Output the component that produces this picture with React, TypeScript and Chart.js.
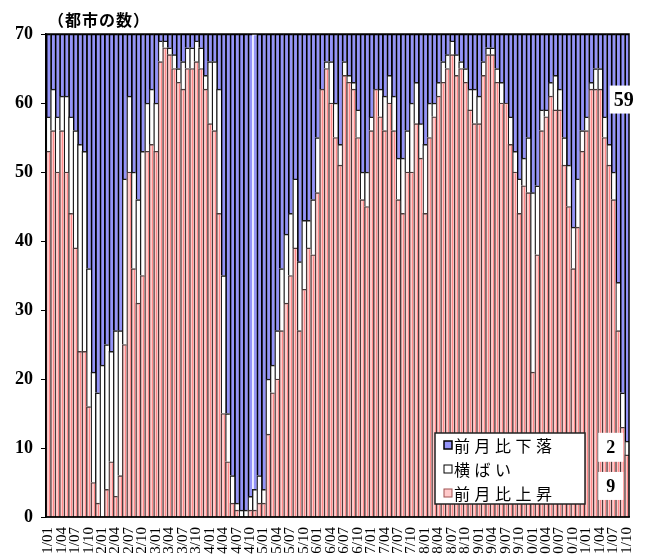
import { useEffect, useRef } from 'react';
import { Chart, registerables } from 'chart.js';

Chart.register(...registerables);

// Monthly categories 2011/01 .. 2021/10
const startYear = 2011;
const monthCount = 130;
const categories: string[] = [];
for (let i = 0; i < monthCount; i++) {
  const y = startYear + Math.floor(i / 12);
  const m = (i % 12) + 1;
  categories.push(`${y}/${m < 10 ? '0' + m : m}`);
}

// 前月比上昇 (rising)
const rising = [
  53, 56, 50, 56, 50, 44, 39, 24, 24, 16, 5, 2, 0, 4, 8, 3, 6, 25, 50, 36,
  31, 35, 53, 54, 53, 66, 68, 67, 65, 63, 62, 65, 65, 66, 65, 62, 57, 56, 44, 15,
  8, 2, 1, 0, 0, 1, 1, 2, 2, 12, 18, 20, 27, 31, 35, 39, 27, 33, 39, 38,
  47, 62, 65, 60, 55, 51, 64, 63, 62, 55, 46, 45, 56, 62, 58, 56, 60, 56, 46, 44,
  50, 50, 57, 52, 44, 55, 58, 61, 63, 65, 67, 64, 65, 63, 59, 57, 57, 64, 67, 67,
  63, 60, 60, 54, 50, 44, 48, 47, 21, 38, 56, 58, 61, 59, 59, 51, 45, 36, 42, 53,
  56, 62, 62, 62, 55, 51, 46, 27, 13, 9,
];

// 横ばい (flat)
const flat = [
  5, 6, 8, 5, 11, 14, 17, 30, 29, 20, 16, 16, 22, 21, 16, 24, 21, 24, 11, 14,
  15, 18, 7, 8, 7, 3, 1, 1, 2, 2, 4, 3, 3, 3, 3, 2, 9, 10, 18, 20,
  7, 4, 1, 1, 1, 2, 3, 4, 2, 8, 4, 7, 9, 10, 9, 10, 10, 10, 4, 8,
  8, 0, 1, 6, 5, 3, 2, 1, 1, 4, 4, 5, 2, 0, 4, 5, 4, 5, 6, 8,
  6, 10, 6, 5, 10, 5, 2, 2, 3, 2, 2, 3, 1, 2, 3, 5, 4, 2, 1, 1,
  2, 3, 0, 4, 3, 5, 4, 8, 26, 10, 3, 1, 2, 5, 3, 4, 6, 6, 7, 3,
  2, 1, 3, 3, 3, 3, 4, 7, 5, 2,
];

// 前月比下落 (falling)
const falling = [
  12, 8, 12, 9, 9, 12, 14, 16, 17, 34, 49, 52, 48, 45, 46, 43, 43, 21, 9, 20,
  24, 17, 10, 8, 10, 1, 1, 2, 3, 5, 4, 2, 2, 1, 2, 6, 4, 4, 8, 35,
  55, 64, 68, 69, 69, 67, 66, 64, 66, 50, 48, 43, 34, 29, 26, 21, 33, 27, 27, 24,
  15, 8, 4, 4, 10, 16, 4, 6, 7, 11, 20, 20, 12, 8, 8, 9, 6, 9, 18, 18,
  14, 10, 7, 13, 16, 10, 10, 7, 4, 3, 1, 3, 4, 5, 8, 8, 9, 4, 2, 2,
  5, 7, 10, 12, 17, 21, 18, 15, 23, 22, 11, 11, 7, 6, 8, 15, 19, 28, 21, 14,
  12, 7, 5, 5, 12, 16, 20, 36, 52, 59,
];

const yMax = 70;
const yStep = 10;
const seriesNames = ['前月比下落', '横ばい', '前月比上昇'];
const axisTitle = '（都市の数）';
const lastLabels = ['59', '2', '9'];
const lastLabelValues = [60.5, 10.1, 4.5];
const noBorderIndex = 46;

const BLUE = '#9494f8';
const PINK = '#ffcaca';
const WHITE = '#ffffff';

const overlayPlugin = {
  id: 'overlay',
  afterDatasetsDraw(chart: any) {
    const ctx = chart.ctx;
    const meta = chart.getDatasetMeta(0);
    ctx.save();
    ctx.strokeStyle = 'rgba(255,60,60,0.45)';
    ctx.lineWidth = 1;
    meta.data.forEach((el: any) => {
      const top = Math.min(el.y, el.base);
      const bottom = Math.max(el.y, el.base);
      if (bottom - top < 2) return;
      const x = Math.round(el.x + 0.6) + 0.5;
      ctx.beginPath();
      ctx.moveTo(x, top + 1.5);
      ctx.lineTo(x, bottom);
      ctx.stroke();
    });
    ctx.restore();
  },
  afterDraw(chart: any) {
    const ctx = chart.ctx;
    const a = chart.chartArea;
    const ys = chart.scales.y;
    ctx.save();
    // frame
    ctx.strokeStyle = '#000';
    ctx.lineWidth = 1.5;
    ctx.strokeRect(a.left, a.top, a.right - a.left, a.bottom - a.top);

    // title
    ctx.fillStyle = '#000';
    ctx.font = 'bold 16px "Noto Sans CJK JP", sans-serif';
    ctx.textBaseline = 'middle';
    ctx.textAlign = 'left';
    try { (ctx as any).letterSpacing = '1px'; } catch (e) {}
    ctx.fillText(axisTitle, a.left + 2, a.top - 14);

    // legend
    const lx = a.right - 194;
    const ly = a.bottom - 84;
    const lw = 150;
    const lh = 71;
    ctx.fillStyle = '#fff';
    ctx.fillRect(lx, ly, lw, lh);
    ctx.strokeStyle = '#222';
    ctx.lineWidth = 1.5;
    ctx.strokeRect(lx, ly, lw, lh);
    const fills = [BLUE, WHITE, PINK];
    const strokes = ['#000', '#000', '#a05050'];
    ctx.font = '16px "Noto Sans CJK JP", sans-serif';
    try { (ctx as any).letterSpacing = '4.5px'; } catch (e) {}
    seriesNames.forEach((name, i) => {
      const cy = ly + 12 + i * 24;
      ctx.fillStyle = fills[i];
      ctx.fillRect(lx + 9, cy - 4, 8, 8);
      ctx.strokeStyle = strokes[i];
      ctx.lineWidth = i === 0 ? 1.5 : 1;
      ctx.strokeRect(lx + 9, cy - 4, 8, 8);
      ctx.fillStyle = '#000';
      ctx.fillText(name, lx + 19, cy + 1);
    });
    try { (ctx as any).letterSpacing = '0px'; } catch (e) {}

    // last-bar labels
    const lastMeta = chart.getDatasetMeta(2);
    const lastBar = lastMeta.data[lastMeta.data.length - 1];
    const boxes = [
      { cx: lastBar.x - 3, w: 28, h: 28, size: 20 },
      { cx: lastBar.x - 16, w: 25, h: 29, size: 18 },
      { cx: lastBar.x - 16, w: 25, h: 28, size: 18 },
    ];
    boxes.forEach((b, i) => {
      const cy = ys.getPixelForValue(lastLabelValues[i]);
      ctx.fillStyle = '#fff';
      ctx.fillRect(b.cx - b.w / 2, cy - b.h / 2, b.w, b.h);
      ctx.fillStyle = '#000';
      ctx.font = `bold ${b.size}px "Liberation Serif", "Times New Roman", serif`;
      ctx.textAlign = 'center';
      ctx.textBaseline = 'middle';
      ctx.fillText(lastLabels[i], b.cx, cy + 1);
    });
    ctx.restore();
  },
};

export default function App() {
  const ref = useRef<HTMLCanvasElement | null>(null);

  useEffect(() => {
    document.body.style.margin = '0';
    const canvas = ref.current;
    if (!canvas) return;
    const fallingBorder = falling.map((_, i) => (i === noBorderIndex ? 'rgba(0,0,0,0)' : '#000'));
    const chart = new Chart(canvas, {
      type: 'bar',
      data: {
        labels: categories,
        datasets: [
          {
            label: seriesNames[2],
            data: rising,
            backgroundColor: PINK,
            borderColor: '#4a3a3a',
            borderWidth: { left: 1.4, top: 1.4, right: 0, bottom: 0 } as any,
            borderSkipped: false,
            categoryPercentage: 1,
            barPercentage: 1,
          },
          {
            label: seriesNames[1],
            data: flat,
            backgroundColor: WHITE,
            borderColor: '#1a1a1a',
            borderWidth: { left: 1.4, top: 1.5, right: 0, bottom: 0 } as any,
            borderSkipped: false,
            categoryPercentage: 1,
            barPercentage: 1,
          },
          {
            label: seriesNames[0],
            data: falling,
            backgroundColor: BLUE,
            borderColor: fallingBorder,
            borderWidth: { left: 1.8, top: 1.6, right: 0, bottom: 0 } as any,
            borderSkipped: false,
            categoryPercentage: 1,
            barPercentage: 1,
          },
        ],
      },
      options: {
        animation: false,
        responsive: false,
        maintainAspectRatio: false,
        layout: { padding: { top: 34, right: 16, left: 0, bottom: 0 } },
        plugins: {
          legend: { display: false },
          tooltip: { enabled: false },
          title: { display: false },
        },
        scales: {
          x: {
            stacked: true,
            grid: { display: false, drawTicks: false },
            border: { display: true, color: '#000', width: 1.5 },
            ticks: {
              autoSkip: false,
              maxRotation: 90,
              minRotation: 90,
              padding: 10,
              color: '#000',
              font: { family: '"Liberation Serif", "Times New Roman", serif', size: 15 },
              callback: (_v: any, i: number) => (i % 3 === 0 ? categories[i] : ''),
            },
            afterFit: (s: any) => {
              s.height = 37;
              s.paddingRight = 0;
              s.paddingLeft = 0;
            },
          },
          y: {
            stacked: true,
            min: 0,
            max: yMax,
            ticks: {
              stepSize: yStep,
              padding: 8,
              color: '#000',
              font: { family: '"Liberation Serif", "Times New Roman", serif', size: 18, weight: 'bold' },
            },
            grid: { drawOnChartArea: false, tickLength: 5, color: '#000' },
            border: { display: true, color: '#000', width: 1.5 },
            afterFit: (s: any) => {
              s.width = 46;
            },
          },
        },
      },
      plugins: [overlayPlugin],
    } as any);
    return () => chart.destroy();
  }, []);

  return (
    <div style={{ width: 645, height: 554, overflow: 'hidden' }}>
      <canvas ref={ref} width={645} height={554} style={{ display: 'block' }} />
    </div>
  );
}
